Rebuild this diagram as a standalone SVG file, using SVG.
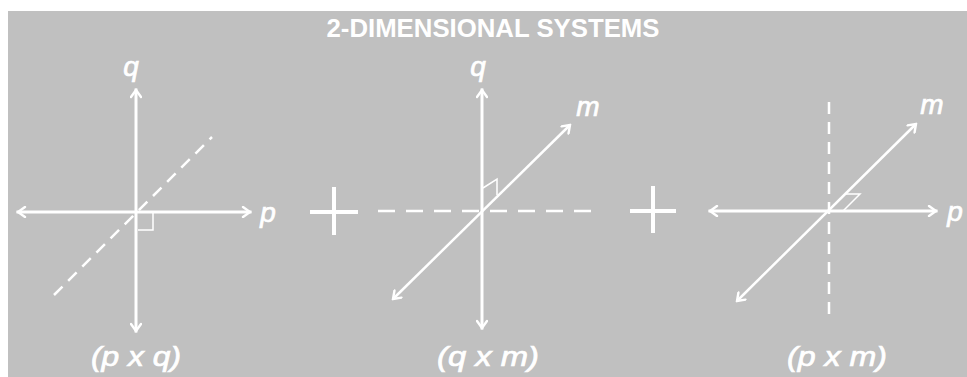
<svg xmlns="http://www.w3.org/2000/svg" width="967" height="377" viewBox="0 0 967 377">
<style>
.ax{stroke:#fff;stroke-width:3;fill:none;stroke-linecap:square}
.dg{stroke:#fff;stroke-width:2.5;fill:none}
.ds{stroke:#fff;stroke-width:2.5;fill:none}
.rt{stroke:#fff;stroke-width:1.5;fill:none}
.pl{stroke:#fff;stroke-width:4;fill:none}
.lb{font-family:"Liberation Sans",Arial,sans-serif;font-weight:normal;font-style:italic;font-size:28px;fill:#fff;stroke:#fff;stroke-width:0.7}
.tt{font-family:"Liberation Sans",Arial,sans-serif;font-weight:bold;font-size:25px;fill:#fff}
</style>
<defs>
<marker id="ah" viewBox="0 0 12 12" refX="10" refY="6" markerWidth="12" markerHeight="12" markerUnits="userSpaceOnUse" orient="auto-start-reverse">
<path d="M3,1 L10,6 L3,11" fill="none" stroke="#fff" stroke-width="2.4" stroke-linecap="round" stroke-linejoin="miter"/>
</marker>
</defs>
<rect x="8" y="11" width="959" height="366" fill="#c0c0c0"/>
<text id="title" class="tt" x="493" y="37" text-anchor="middle" textLength="333" lengthAdjust="spacingAndGlyphs">2-DIMENSIONAL SYSTEMS</text>
<g id="connectors">
<line class="ds" x1="54" y1="295" x2="212" y2="137" stroke-dasharray="12,8"/>
<line class="ax" x1="136" y1="90" x2="136" y2="331" marker-start="url(#ah)" marker-end="url(#ah)"/>
<line class="ax" x1="18" y1="212" x2="250" y2="212" marker-start="url(#ah)" marker-end="url(#ah)"/>
<path class="rt" d="M138,230 H153 V213"/>
<line class="ds" x1="378" y1="211" x2="598" y2="211" stroke-dasharray="17,11"/>
<line class="ax" x1="482" y1="90" x2="482" y2="328" marker-start="url(#ah)" marker-end="url(#ah)"/>
<line class="dg" x1="393" y1="299" x2="570" y2="125" marker-start="url(#ah)" marker-end="url(#ah)"/>
<path class="rt" d="M483,188 L497,179 V195"/>
<line class="ds" x1="829" y1="102" x2="829" y2="315" stroke-dasharray="12,8"/>
<line class="ax" x1="710" y1="211" x2="936" y2="211" marker-start="url(#ah)" marker-end="url(#ah)"/>
<line class="dg" x1="737" y1="301" x2="916" y2="124" marker-start="url(#ah)" marker-end="url(#ah)"/>
<path class="rt" d="M846,194 H860 L843,211"/>
</g>
<g id="plus1"><path class="pl" d="M310,212 H358 M334,187 V235"/></g>
<g id="plus2"><path class="pl" d="M630,211 H676 M653,186 V233"/></g>
<g id="panel1-labels">
<text class="lb" x="131" y="76" text-anchor="middle">q</text>
<text class="lb" x="268" y="222" text-anchor="middle">p</text>
<text class="lb" x="136" y="366" text-anchor="middle" textLength="90" lengthAdjust="spacingAndGlyphs">(p x q)</text>
</g>
<g id="panel2-labels">
<text class="lb" x="478" y="76" text-anchor="middle">q</text>
<text class="lb" x="588" y="116" text-anchor="middle">m</text>
<text class="lb" x="488" y="366" text-anchor="middle" textLength="102" lengthAdjust="spacingAndGlyphs">(q x m)</text>
</g>
<g id="panel3-labels">
<text class="lb" x="932" y="114" text-anchor="middle">m</text>
<text class="lb" x="955" y="221" text-anchor="middle">p</text>
<text class="lb" x="837" y="366" text-anchor="middle" textLength="100" lengthAdjust="spacingAndGlyphs">(p x m)</text>
</g>
</svg>
